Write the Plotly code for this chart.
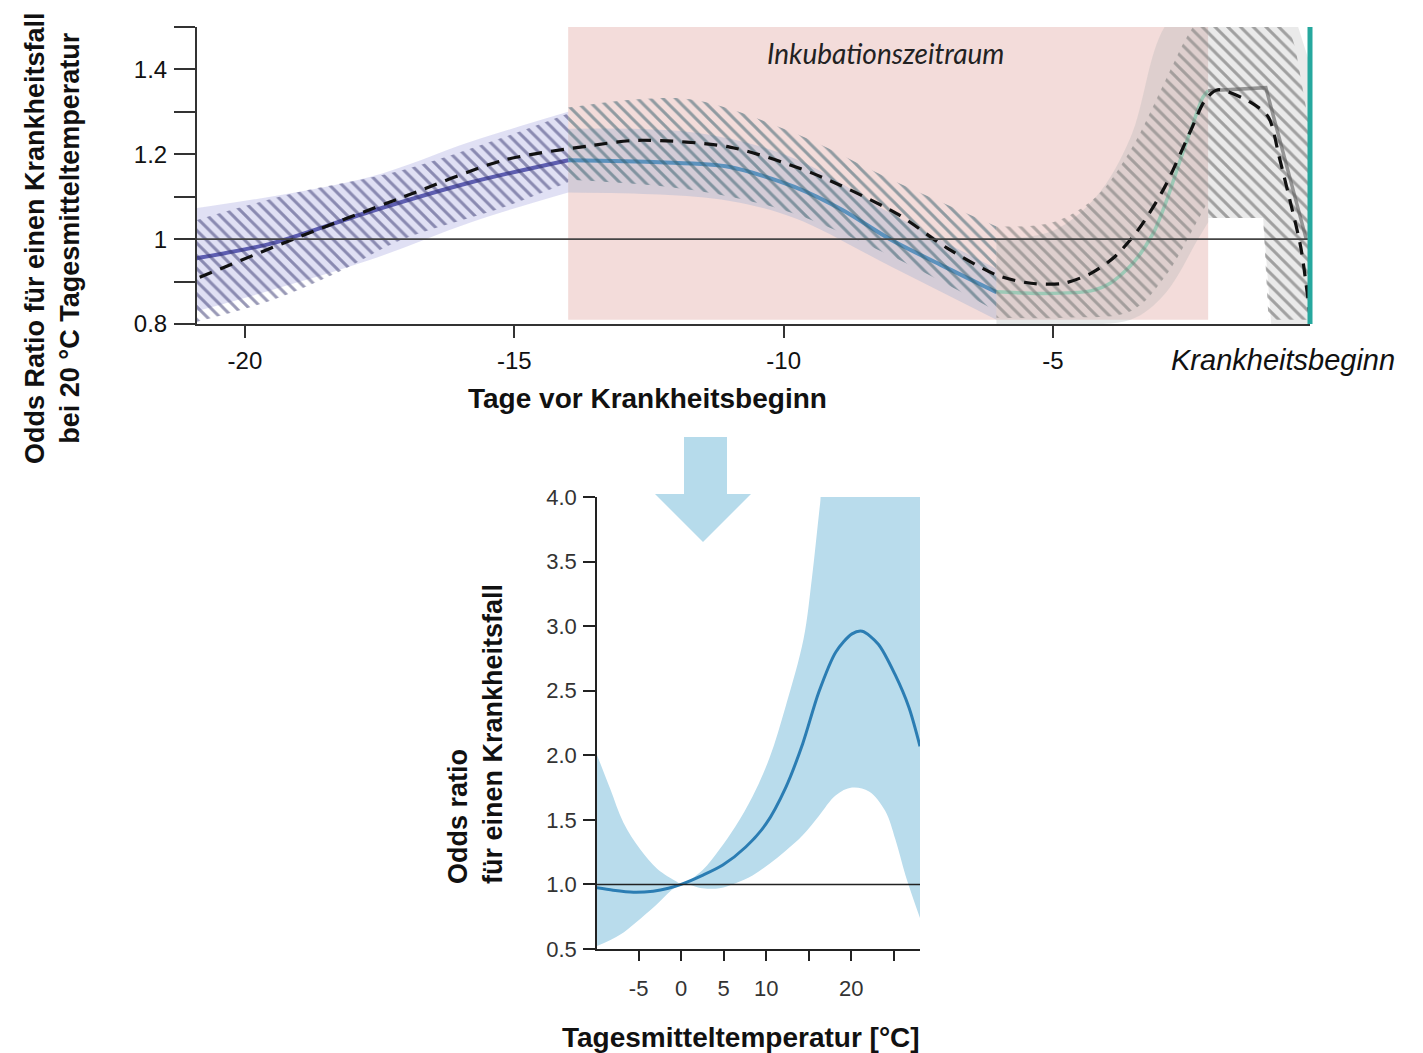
import plotly.graph_objects as go

W, H = 1423, 1053

# ---------------- Top chart data (Odds ratio at 20 °C by lag day) ----------------
# solid estimate line, four colour segments
seg_a_days = [-20.9, -19.5, -17.7, -15.8, -14.0]
seg_a_or = [0.955, 0.99, 1.064, 1.134, 1.186]
seg_b_days = [-14.0, -12.3, -11.0, -9.8, -8.9, -8.0, -7.0, -6.05]
seg_b_or = [1.186, 1.181, 1.17, 1.123, 1.068, 0.998, 0.934, 0.875]
seg_c_days = [-6.05, -5.2, -4.3, -3.94, -3.52, -3.14, -2.89, -2.64, -2.40, -2.22, -2.12]
seg_c_or = [0.876, 0.872, 0.878, 0.896, 0.943, 1.014, 1.092, 1.186, 1.273, 1.334, 1.35]
seg_d_days = [-2.12, -1.05, -0.3]
seg_d_or = [1.35, 1.357, 1.0]

# dashed comparison line
dash_days = [-20.84, -19.1, -17.05, -15.2, -13.6, -12.7, -11.0, -9.46, -7.9, -6.98, -6.04,
             -5.41, -4.8, -4.29, -3.86, -3.43, -2.93, -2.43, -2.18, -1.94, -1.3, -1.0,
             -0.8, -0.6, -0.4, -0.24]
dash_or = [0.91, 1.0, 1.10, 1.186, 1.22, 1.233, 1.217, 1.155, 1.06, 0.98, 0.915,
           0.896, 0.896, 0.92, 0.958, 1.02, 1.122, 1.26, 1.327, 1.352, 1.32, 1.287,
           1.193, 1.09, 0.98, 0.83]

# solid confidence bands
band_a_up_d = [-20.9, -17.7, -15.8, -14.0]
band_a_up = [1.073, 1.146, 1.23, 1.30]
band_a_lo_d = [-20.9, -19.5, -17.7, -15.8, -14.0]
band_a_lo = [0.83, 0.88, 0.95, 1.04, 1.11]

band_b_up_d = [-14.0, -11.6, -9.8, -8.0, -6.05]
band_b_up = [1.26, 1.25, 1.19, 1.06, 0.93]
band_b_lo_d = [-14.0, -12.3, -11.0, -9.8, -8.0, -6.05]
band_b_lo = [1.11, 1.105, 1.09, 1.05, 0.935, 0.81]

band_c_up_d = [-6.05, -5.0, -4.2, -3.56, -2.93, -2.12]
band_c_up = [1.0, 1.02, 1.10, 1.24, 1.5, 1.6]
band_c_lo_d = [-6.05, -4.8, -3.56, -2.93, -2.31, -2.12]
band_c_lo = [0.80, 0.80, 0.81, 0.87, 1.0, 1.04]

band_d_up_d = [-2.12, -0.75, -0.45, -0.2]
band_d_up = [1.6, 1.6, 1.5, 1.4]
band_d_lo_d = [-2.12, -1.1, -0.95, -0.2]
band_d_lo = [1.05, 1.05, 0.8, 0.8]

# hatched confidence bands (around dashed line)
hatch_a_up_d = [-20.9, -19.1, -17.1, -15.2, -14.0]
hatch_a_up = [1.045, 1.108, 1.162, 1.24, 1.296]
hatch_a_lo_d = [-20.9, -19.5, -18.3, -17.1, -15.2, -14.0]
hatch_a_lo = [0.805, 0.856, 0.92, 0.998, 1.075, 1.134]

hatch_b_up_d = [-14.0, -12.7, -11.6, -9.8, -8.0, -6.05]
hatch_b_up = [1.31, 1.33, 1.327, 1.25, 1.14, 1.03]
hatch_b_lo_d = [-14.0, -12.3, -11.0, -9.8, -8.0, -6.05]
hatch_b_lo = [1.14, 1.125, 1.10, 1.06, 0.96, 0.83]

hatch_c_up_d = [-6.05, -5.0, -4.2, -3.56, -2.93, -2.5, -2.12]
hatch_c_up = [1.03, 1.04, 1.10, 1.21, 1.37, 1.48, 1.55]
hatch_c_lo_d = [-6.05, -4.8, -3.56, -2.93, -2.31, -2.12]
hatch_c_lo = [0.815, 0.815, 0.83, 0.91, 1.045, 1.09]

hatch_d_up_d = [-2.12, -0.75, -0.5, -0.22]
hatch_d_up = [1.55, 1.55, 1.45, 1.25]
hatch_d_lo_d = [-2.12, -1.1, -1.0, -0.22]
hatch_d_lo = [1.05, 1.05, 0.81, 0.81]

incubation_start, incubation_end = -14.0, -2.12
top_xticks = [-20, -15, -10, -5]
top_xticklabels = ["-20", "-15", "-10", "-5"]
top_yticks = [0.8, 0.9, 1.0, 1.1, 1.2, 1.3, 1.4, 1.5]
top_yticklabels = ["0.8", "", "1", "", "1.2", "", "1.4", ""]

# ---------------- Bottom chart data (Odds ratio by temperature) ----------------
temp = [-10, -8, -5.6, -3.3, -1.5, 0, 2.5, 4.9, 7.6, 10, 12.3, 14.3, 16.2, 18.2,
        20.1, 21.3, 23.2, 25.2, 26.8, 28.1]
temp_or = [0.975, 0.955, 0.94, 0.948, 0.97, 1.0, 1.07, 1.15, 1.29, 1.47, 1.75,
           2.09, 2.49, 2.80, 2.94, 2.96, 2.86, 2.62, 2.37, 2.07]
temp_up_x = [-10, -8.35, -6.8, -4.8, -2.8, -0.5, 0, 2.5, 4.5, 6.4, 8.4, 10.4, 12.3, 14.4,
             15.4, 16.35, 17.2, 28.1]
temp_up = [2.02, 1.74, 1.48, 1.27, 1.12, 1.02, 1.0, 1.11, 1.27, 1.45, 1.68, 1.98, 2.38,
           2.9, 3.38, 3.95, 4.4, 4.4]
temp_lo_x = [-10, -7.2, -3.3, 0, 2.5, 4.5, 6.4, 8.4, 10.4, 12.3, 14.3, 16.2, 18.2, 20.1,
             22.1, 24, 25.2, 26.4, 28.1]
temp_lo = [0.52, 0.61, 0.82, 1.0, 0.97, 0.97, 1.01, 1.07, 1.16, 1.26, 1.38, 1.53, 1.69,
           1.75, 1.72, 1.57, 1.35, 1.07, 0.74]
bot_xticks = [-5, 0, 5, 10, 15, 20, 25]
bot_xticklabels = ["-5", "0", "5", "10", "", "20", ""]
bot_yticks = [0.5, 1.0, 1.5, 2.0, 2.5, 3.0, 3.5, 4.0]


def px(xp):
    return xp / W


def py(yp):
    return 1 - yp / H


FONT = "Liberation Sans, Arial, sans-serif"

fig = go.Figure()


def band(xu, yu, xl, yl, color=None, pattern=None, xa="x", ya="y", shape="spline"):
    # lower edge (invisible), then upper edge filled down to it
    fig.add_trace(go.Scatter(x=xl, y=yl, mode="lines",
                             line=dict(width=0, shape=shape, color="rgba(0,0,0,0)"),
                             hoverinfo="skip", showlegend=False, xaxis=xa, yaxis=ya))
    kw = dict(fill="tonexty")
    if pattern:
        kw["fillpattern"] = dict(shape="\\", fgcolor=pattern, bgcolor="rgba(0,0,0,0)",
                                 size=9, solidity=0.33)
    else:
        kw["fillcolor"] = color
    fig.add_trace(go.Scatter(x=xu, y=yu, mode="lines",
                             line=dict(width=0, shape=shape, color="rgba(0,0,0,0)"),
                             hoverinfo="skip", showlegend=False, xaxis=xa, yaxis=ya, **kw))


def line(xs, ys, color, width, dash=None, xa="x", ya="y", shape="spline"):
    fig.add_trace(go.Scatter(x=xs, y=ys, mode="lines",
                             line=dict(color=color, width=width, dash=dash,
                                       shape=shape, smoothing=0.8),
                             hoverinfo="skip", showlegend=False, xaxis=xa, yaxis=ya))


# solid bands
band(band_a_up_d, band_a_up, band_a_lo_d, band_a_lo, "rgba(160,160,220,0.32)")
band(band_b_up_d, band_b_up, band_b_lo_d, band_b_lo, "rgba(175,185,210,0.45)")
band(band_c_up_d, band_c_up, band_c_lo_d, band_c_lo, "rgba(170,175,175,0.28)")
band(band_d_up_d, band_d_up, band_d_lo_d, band_d_lo, "rgba(220,220,220,0.6)", shape="linear")

# solid lines
line(seg_a_days, seg_a_or, "rgba(70,70,165,0.85)", 4)
line(seg_b_days, seg_b_or, "rgba(70,135,185,0.85)", 4)
line(seg_c_days, seg_c_or, "rgba(150,200,180,0.9)", 3.5)
line(seg_d_days, seg_d_or, "rgba(140,140,140,0.9)", 3.5, shape="linear")

# hatched bands
band(hatch_a_up_d, hatch_a_up, hatch_a_lo_d, hatch_a_lo, pattern="#34346e")
band(hatch_b_up_d, hatch_b_up, hatch_b_lo_d, hatch_b_lo, pattern="#2e5a68")
band(hatch_c_up_d, hatch_c_up, hatch_c_lo_d, hatch_c_lo, pattern="#6a6e6c")
band(hatch_d_up_d, hatch_d_up, hatch_d_lo_d, hatch_d_lo, pattern="#555555", shape="linear")

# dashed line
line(dash_days, dash_or, "#111111", 3.2, dash="13px,9px")

# bottom chart
band(temp_up_x, temp_up, temp_lo_x, temp_lo, "#b9dcec", xa="x2", ya="y2")
line(temp, temp_or, "#2b7db3", 3, xa="x2", ya="y2")

axis_common = dict(showgrid=False, zeroline=False, showline=True, ticks="outside",
                   automargin=False)

fig.update_layout(
    width=W, height=H, margin=dict(l=0, r=0, t=0, b=0, autoexpand=False),
    paper_bgcolor="white", plot_bgcolor="rgba(0,0,0,0)",
    font=dict(family=FONT, color="#111"),
    xaxis=dict(domain=[px(197), px(1310)], range=[-20.89, -0.23], anchor="y",
               tickvals=top_xticks, ticktext=top_xticklabels, ticklen=12, tickwidth=1.5,
               linewidth=2, linecolor="#333", tickcolor="#333", ticklabelstandoff=2,
               tickfont=dict(size=24, color="#111", family=FONT), **axis_common),
    yaxis=dict(domain=[py(324), py(27)], range=[0.8, 1.5], anchor="x",
               tickvals=top_yticks, ticktext=top_yticklabels, ticklen=21, tickwidth=1.5,
               linewidth=2, linecolor="#333", tickcolor="#333", ticklabelstandoff=2,
               tickfont=dict(size=24, color="#111", family=FONT), **axis_common),
    xaxis2=dict(domain=[px(597), px(920)], range=[-9.9, 28.1], anchor="y2",
                tickvals=bot_xticks, ticktext=bot_xticklabels, ticklen=10, tickwidth=1.5,
                linewidth=1.5, linecolor="#222", tickcolor="#222", ticklabelstandoff=9,
                tickfont=dict(size=22, color="#333", family=FONT), **axis_common),
    yaxis2=dict(domain=[py(949), py(497)], range=[0.5, 4.0], anchor="x2",
                tickvals=bot_yticks, tickformat=".1f", ticklen=12, tickwidth=1.5,
                linewidth=1.5, linecolor="#222", tickcolor="#222", ticklabelstandoff=2,
                tickfont=dict(size=22, color="#333", family=FONT), **axis_common),
)

shapes = [
    # incubation period background
    dict(type="rect", xref="x", yref="y", x0=incubation_start, x1=incubation_end,
         y0=0.81, y1=1.507, fillcolor="#f3dcda", line=dict(width=0), layer="below"),
    # reference lines at OR = 1
    dict(type="line", xref="x domain", yref="y", x0=0, x1=1, y0=1, y1=1,
         line=dict(color="#444", width=1.8), layer="above"),
    dict(type="line", xref="x2 domain", yref="y2", x0=0, x1=1, y0=1, y1=1,
         line=dict(color="#222", width=1.5), layer="above"),
    # disease onset marker
    dict(type="line", xref="x domain", yref="y", x0=1, x1=1, y0=0.8, y1=1.507,
         line=dict(color="#26a89e", width=5), layer="above"),
    # arrow
    dict(type="path", xref="paper", yref="paper", fillcolor="#b6dbeb",
         line=dict(width=0), layer="below",
         path=(f"M {px(684)},{py(437)} L {px(727)},{py(437)} L {px(727)},{py(494)} "
               f"L {px(751)},{py(494)} L {px(703)},{py(542)} L {px(655)},{py(494)} "
               f"L {px(684)},{py(494)} Z")),
]
fig.update_layout(shapes=shapes)

ann = [
    dict(text="<i>Inkubationszeitraum</i>", x=px(886), y=py(53), xref="paper", yref="paper",
         showarrow=False, font=dict(family="Lato, Open Sans, sans-serif", size=28,
                                    color="#222"), xanchor="center", yanchor="middle"),
    dict(text="<i>Krankheitsbeginn</i>", x=px(1283), y=py(360), xref="paper", yref="paper",
         showarrow=False, font=dict(family=FONT, size=29, color="#111"),
         xanchor="center", yanchor="middle"),
    dict(text="<b>Tage vor Krankheitsbeginn</b>", x=px(647), y=py(398), xref="paper",
         yref="paper", showarrow=False, font=dict(family=FONT, size=28, color="#111"),
         xanchor="center", yanchor="middle"),
    dict(text="<b>Odds Ratio für einen Krankheitsfall<br>bei 20 °C Tagesmitteltemperatur</b>",
         x=px(53), y=py(238), xref="paper", yref="paper", showarrow=False, textangle=-90,
         font=dict(family=FONT, size=27, color="#111"), xanchor="center", yanchor="middle"),
    dict(text="<b>Odds ratio<br>für einen Krankheitsfall</b>", x=px(475), y=py(886),
         xref="paper", yref="paper", showarrow=False, textangle=-90, align="left",
         font=dict(family=FONT, size=27, color="#111"), xanchor="center", yanchor="bottom"),
    dict(text="<b>Tagesmitteltemperatur [°C]</b>", x=px(741), y=py(1037), xref="paper",
         yref="paper", showarrow=False, font=dict(family=FONT, size=28, color="#111"),
         xanchor="center", yanchor="middle"),
]
fig.update_layout(annotations=ann)

fig.write_html("out.html", config={"displayModeBar": False},
               post_script="document.body.style.margin='0';document.body.style.overflow='hidden';")
